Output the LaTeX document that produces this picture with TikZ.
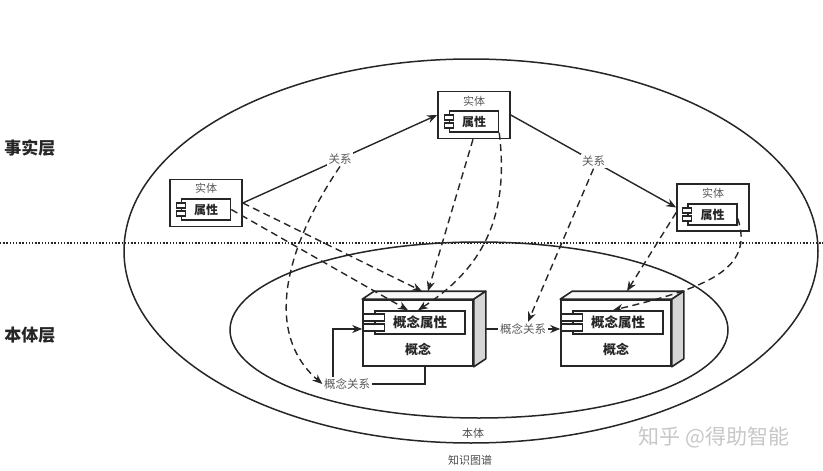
\documentclass[tikz,border=0pt]{standalone}
\usepackage{fontspec}
\setmainfont{Noto Sans CJK SC}
\usetikzlibrary{arrows.meta,calc}
\newcommand\compicon[3]{%
  \draw[icon] ([shift={(-#2,1.5pt)}]#1.west) rectangle ([shift={(#2,#3)}]#1.west);
  \draw[icon] ([shift={(-#2,-1.5pt)}]#1.west) rectangle ([shift={(#2,-#3)}]#1.west);
}
\newcommand\cubeside[1]{%
  \filldraw[cubeface, fill=black!3] (#1.north west) -- ([shift={(12pt,8pt)}]#1.north west) -- ([shift={(12pt,8pt)}]#1.north east) -- (#1.north east) -- cycle;
  \filldraw[cubeface, fill=black!16] (#1.north east) -- ([shift={(12pt,8pt)}]#1.north east) -- ([shift={(12pt,8pt)}]#1.south east) -- (#1.south east) -- cycle;
}
\begin{document}
\begin{tikzpicture}[x=1pt,y=-1pt,
  line/.style={draw=black!85, line width=1.4pt},
  ring/.style={draw=black!85, line width=1.5pt},
  sep/.style={draw=black!85, line width=1.4pt, dash pattern=on 1.4pt off 1.8pt},
  tip/.style={-{Stealth[length=10pt,width=8pt]}},
  dsh/.style={line, dash pattern=on 7pt off 4.5pt, tip},
  ent/.style={draw=black!85, line width=1.6pt, fill=white, minimum width=72pt, minimum height=47pt, inner sep=0pt},
  etitle/.style={text=black!65, font=\fontsize{11}{11}\selectfont, inner sep=1pt},
  attr/.style={draw=black!85, line width=1.5pt, fill=white, inner sep=0pt, text=black!85},
  eattr/.style={attr, minimum width=49pt, minimum height=21pt, font=\bfseries\fontsize{12}{12}\selectfont},
  cattr/.style={attr, minimum width=90pt, minimum height=23pt, font=\bfseries\fontsize{13.5}{13.5}\selectfont},
  cube/.style={draw=black!85, line width=1.6pt, fill=white, minimum width=110pt, minimum height=66pt, inner sep=0pt},
  cubeface/.style={draw=black!85, line width=1.6pt, line join=round},
  clab/.style={text=black!85, font=\bfseries\fontsize{13}{13}\selectfont},
  lbl/.style={fill=white, inner sep=1.5pt, text=black!65, font=\fontsize{11.5}{11.5}\selectfont},
  ltext/.style={text=black!70, font=\fontsize{11}{11}\selectfont},
  layer/.style={font=\bfseries\fontsize{17}{17}\selectfont, text=black!85},
  icon/.style={draw=black!85, line width=1.3pt, fill=white}
]
\useasboundingbox (0,0) rectangle (823,471);
% ellipses and separator
\draw[ring] (471,251) ellipse [x radius=347pt, y radius=192pt];
\draw[ring] (479,330) ellipse [x radius=249pt, y radius=88pt];
\coordinate (sepL) at (0,243);
\coordinate (sepR) at (823,243);
\draw[sep] (sepL) -- (sepR);
\node[layer] (fact) at (30,148) {事实层};
\node[layer] (onto) at (30,335) {本体层};
\node[ltext] (bt) at (473,433) {本体};
\node[ltext] (kg) at (470,460) {知识图谱};
\node[text=black!22, font=\fontsize{21}{21}\selectfont] (wm) at (714,437) {知乎 @得助智能};

% entities
\node[ent] (e1) at (206,203) {};
\node[etitle] (e1t) at (206,188) {实体};
\node[eattr] (e1a) at (206,209.5) {属性};
\compicon{e1a}{4.5pt}{6.5pt}

\node[ent] (e2) at (474,115) {};
\node[etitle] (e2t) at (474,101) {实体};
\node[eattr] (e2a) at (474,121.5) {属性};
\compicon{e2a}{4.5pt}{6.5pt}

\node[ent] (e3) at (713,207.5) {};
\node[etitle] (e3t) at (713,193) {实体};
\node[eattr] (e3a) at (712.5,214.5) {属性};
\compicon{e3a}{4.5pt}{6.5pt}

% concepts
\node[cube] (c1) at (418,333) {};
\cubeside{c1}
\node[cattr] (c1a) at (420,322.5) {概念属性};
\compicon{c1a}{10.5pt}{8.5pt}
\node[clab] (c1l) at (418,349) {概念};

\node[cube] (c2) at (616,333) {};
\cubeside{c2}
\node[cattr] (c2a) at (618,322.5) {概念属性};
\compicon{c2a}{10.5pt}{8.5pt}
\node[clab] (c2l) at (616,349) {概念};

% solid relations
\draw[line,tip] (e1.east) -- node[lbl] (r1) {关系} (e2.west);
\draw[line,tip] (e2.east) -- node[lbl] (r2) {关系} (e3.west);
\coordinate (c1side) at ([xshift=12pt]c1.east);
\node[lbl] (cr) at (523,329) {概念关系};
\draw[line] (cr.west -| c1side) -- (cr.west);
\draw[line,tip] (cr.east) -- (c2.west |- cr.east);
\node[lbl] (cl) at (347,384) {概念关系};
\draw[line] ([xshift=7pt]c1.south) |- (cl.east);
\draw[line,tip] ([xshift=-14pt]cl.north) |- ([yshift=4pt]c1.west);

% dashed instance-of links
\draw[dsh] (e1.east) -- ([shift={(4pt,8pt)}]c1.north);
\draw[dsh] (e1a.east) -- ([xshift=-12pt]c1a.north);
\draw[dsh] ([xshift=-1pt]e2.south) -- ([shift={(10pt,8pt)}]c1.north);
\draw[dsh] (e2a.south east) .. controls (510,220) and (480,270) .. ([xshift=-2pt]c1a.north);
\draw[dsh] (r1.south) .. controls (290,240) and (260,330) .. (cl.west);
\draw[dsh] (r2.south) -- ([xshift=5pt]cr.north);
\draw[dsh] ([yshift=-5pt]e3.west) -- ([shift={(11pt,8pt)}]c2.north);
\draw[dsh] ([yshift=-4pt]e3a.east) .. controls (755,270) and (705,288) .. ([xshift=-5pt]c2a.north);
\end{tikzpicture}
\end{document}
